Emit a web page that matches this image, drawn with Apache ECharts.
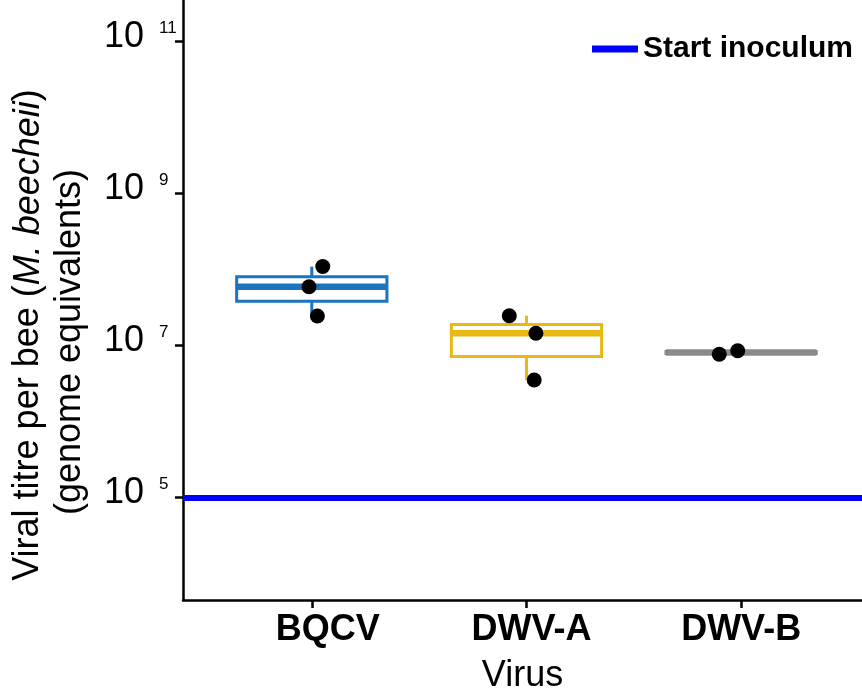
<!DOCTYPE html>
<html>
<head>
<meta charset="utf-8">
<title>Viral titre per bee</title>
<script src="https://cdn.jsdelivr.net/npm/echarts@6/dist/echarts.min.js"></script>
<style>
  html, body { margin: 0; padding: 0; background: #fff; }
  #chart { width: 862px; height: 689px; }
</style>
</head>
<body>
<div id="chart"></div>
<script>
// Virus groups on the x axis
const categories = ['BQCV', 'DWV-A', 'DWV-B'];

// Viral titre per bee (genome equivalents), one value per bee
const titreBQCV = [1.10e8, 5.97e7, 2.46e7];
const titreDWVA = [2.48e7, 1.46e7, 3.54e6];
const titreDWVB = [7.71e6, 8.59e6];

// Horizontal jitter of each point (in category units)
const jitterBQCV = [0.051, -0.013, 0.026];
const jitterDWVA = [-0.080, 0.044, 0.036];
const jitterDWVB = [-0.102, -0.016];

// Titre of the start inoculum
const startInoculum = 1e5;

// Powers of ten labelled on the y axis
const yTickExponents = [5, 7, 9, 11];

// ---- styling ----
const FONT = '"Liberation Sans", Arial, Helvetica, sans-serif';
const boxColors = ['#1b74bd', '#e9b812', '#8a8a8a'];
const labelShift = [32, 10, 0];   // small horizontal nudges of the category labels
const BOX_WIDTH = 0.70;

const groups = [titreBQCV, titreDWVA, titreDWVB];
const jitters = [jitterBQCV, jitterDWVA, jitterDWVB];

// Quantile (type 7, as in R) of a sorted array
function quantile(sorted, p) {
  const h = (sorted.length - 1) * p;
  const lo = Math.floor(h), hi = Math.ceil(h);
  return sorted[lo] + (h - lo) * (sorted[hi] - sorted[lo]);
}

// Box statistics computed on the log10 scale
const boxData = groups.map((vals, i) => {
  const s = vals.map(v => Math.log10(v)).sort((a, b) => a - b);
  const q1 = quantile(s, 0.25), med = quantile(s, 0.5), q3 = quantile(s, 0.75);
  const iqr = q3 - q1;
  const lo = Math.min(...s.filter(v => v >= q1 - 1.5 * iqr));
  const hi = Math.max(...s.filter(v => v <= q3 + 1.5 * iqr));
  return [i + 1, q1, med, q3, lo, hi];
});

const pointData = [];
groups.forEach((vals, i) => {
  vals.forEach((v, j) => pointData.push([i + 1 + jitters[i][j], Math.log10(v)]));
});

const chart = echarts.init(document.getElementById('chart'), null, { renderer: 'canvas' });

const xRich = {};
categories.forEach((c, i) => {
  xRich['c' + i] = {
    fontFamily: FONT, fontSize: 36, fontWeight: 'bold', color: '#000',
    padding: [0, 0, 0, labelShift[i]]
  };
});

chart.setOption({
  animation: false,
  backgroundColor: '#fff',
  grid: { left: 183, right: 0, top: 0, bottom: 89, containLabel: false, outerBoundsMode: 'none' },
  legend: {
    data: [{ name: 'Start inoculum', icon: 'rect' }],
    left: 587, top: 29,
    itemWidth: 46, itemHeight: 7,
    textStyle: { fontFamily: FONT, fontSize: 30, fontWeight: 'bold', color: '#000', padding: [0, 0, 6, 0] },
    selectedMode: false
  },
  xAxis: {
    type: 'value',
    min: 0.4,
    max: 3.563,
    splitLine: { show: false },
    axisLine: { show: true, onZero: false, lineStyle: { color: '#000', width: 2.5 } },
    axisTick: { show: true, length: 8, lineStyle: { color: '#000', width: 2.5 }, customValues: [1, 2, 3] },
    axisLabel: {
      customValues: [1, 2, 3],
      margin: 12,
      formatter: v => {
        const i = Math.round(v) - 1;
        return '{c' + i + '|' + categories[i] + '}';
      },
      rich: xRich
    },
    name: 'Virus',
    nameLocation: 'middle',
    nameGap: 58,
    nameTextStyle: { fontFamily: FONT, fontSize: 36, color: '#000' }
  },
  yAxis: {
    type: 'value',
    min: 3.654,
    max: 11.549,
    splitLine: { show: false },
    axisLine: { show: true, onZero: false, lineStyle: { color: '#000', width: 2.5 } },
    axisTick: { show: true, length: 8, lineStyle: { color: '#000', width: 2.5 }, customValues: yTickExponents },
    axisLabel: {
      customValues: yTickExponents,
      margin: 79,
      align: 'left',
      padding: [0, 0, 9, 0],
      formatter: v => '{b|10}{s|' + v + '}',
      rich: {
        b: { fontFamily: FONT, fontSize: 36, color: '#000' },
        s: { fontFamily: FONT, fontSize: 17, color: '#000', verticalAlign: 'top', padding: [1, 0, 0, 15] }
      }
    }
  },
  graphic: [
    {
      type: 'text', x: 28.5, y: 335, rotation: Math.PI / 2,
      style: {
        text: '{n|Viral titre per bee (}{i|M. beecheii}{n|)}',
        align: 'center', verticalAlign: 'middle',
        rich: {
          n: { fontFamily: FONT, fontSize: 36, fill: '#000' },
          i: { fontFamily: FONT, fontSize: 36, fontStyle: 'italic', fill: '#000' }
        }
      }
    },
    {
      type: 'text', x: 70.5, y: 342, rotation: Math.PI / 2,
      style: {
        text: '(genome equivalents)',
        font: '36px ' + FONT, fill: '#000',
        align: 'center', verticalAlign: 'middle'
      }
    }
  ],
  series: [
    {
      name: 'Start inoculum',
      type: 'line',
      data: [],
      color: '#0000ff',
      z: 1,
      markLine: {
        silent: true,
        symbol: ['none', 'none'],
        label: { show: false },
        lineStyle: { color: '#0000ff', width: 6, type: 'solid' },
        emphasis: { disabled: true },
        data: [{ yAxis: Math.log10(startInoculum) }]
      }
    },
    {
      name: 'box',
      type: 'custom',
      z: 2,
      data: boxData,
      dimensions: ['x', 'q1', 'median', 'q3', 'low', 'high'],
      encode: { x: 0, y: [1, 2, 3, 4, 5] },
      renderItem: (params, api) => {
        const x = api.value(0);
        const q1 = api.value(1), med = api.value(2), q3 = api.value(3);
        const lo = api.value(4), hi = api.value(5);
        const color = boxColors[params.dataIndex];
        const hw = BOX_WIDTH / 2;
        const tl = api.coord([x - hw, q3]);
        const br = api.coord([x + hw, q1]);
        const mL = api.coord([x - hw, med]);
        const mR = api.coord([x + hw, med]);
        const pHi = api.coord([x, hi]);
        const pQ3 = api.coord([x, q3]);
        const pQ1 = api.coord([x, q1]);
        const pLo = api.coord([x, lo]);
        const line = { stroke: color, lineWidth: 3 };
        return {
          type: 'group',
          children: [
            { type: 'line', shape: { x1: pHi[0], y1: pHi[1], x2: pQ3[0], y2: pQ3[1] }, style: line },
            { type: 'line', shape: { x1: pQ1[0], y1: pQ1[1], x2: pLo[0], y2: pLo[1] }, style: line },
            {
              type: 'rect',
              shape: { x: tl[0], y: tl[1], width: br[0] - tl[0], height: br[1] - tl[1] },
              style: { fill: '#fff', stroke: color, lineWidth: 3 }
            },
            { type: 'line', shape: { x1: mL[0], y1: mL[1], x2: mR[0], y2: mR[1] }, style: { stroke: color, lineWidth: 6.5 } }
          ]
        };
      }
    },
    {
      name: 'points',
      type: 'scatter',
      z: 3,
      symbol: 'circle',
      symbolSize: 15,
      itemStyle: { color: '#000', opacity: 1 },
      data: pointData
    }
  ]
});
</script>
</body>
</html>
